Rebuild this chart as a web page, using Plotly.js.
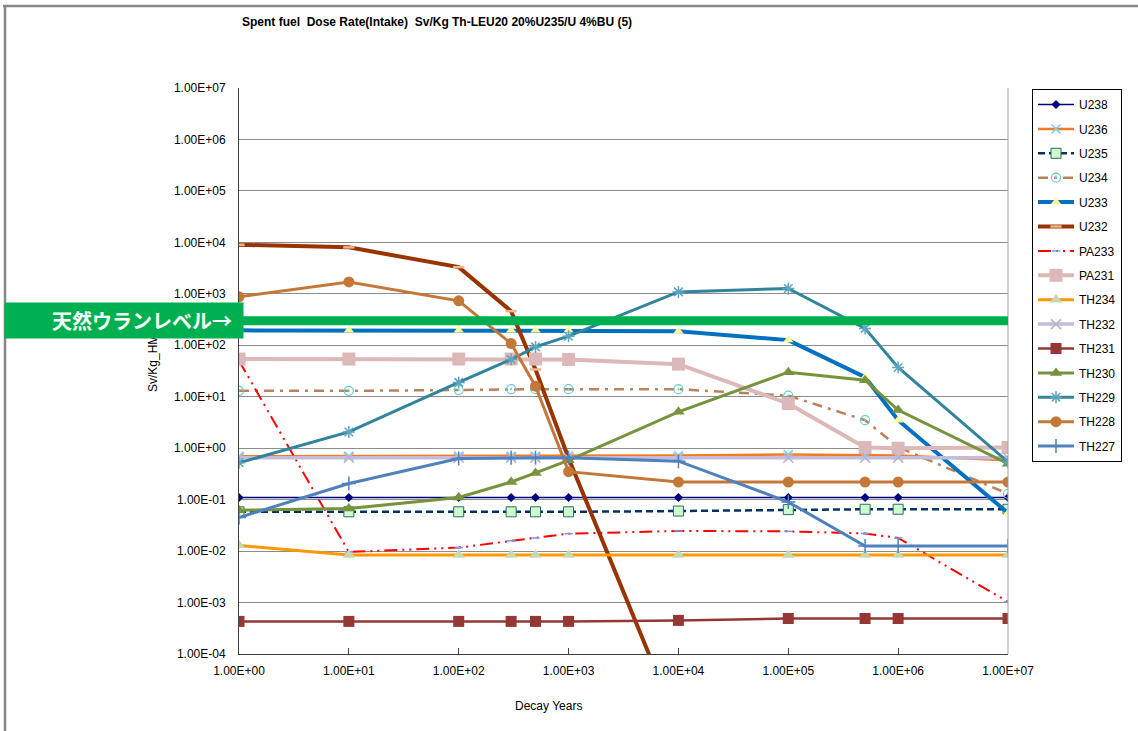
<!DOCTYPE html>
<html>
<head>
<meta charset="utf-8">
<script src="https://cdn.plot.ly/plotly-3.0.1.min.js"></script>
<style>
html,body{margin:0;padding:0;background:#fff;}
#chart{width:1138px;height:731px;}
</style>
</head>
<body>
<div id="chart"></div>
<script>
// ---- data ----
var years = [1, 10, 100, 300, 500, 1000, 1e4, 1e5, 5e5, 1e6, 1e7];
var xTickVals = [1, 10, 100, 1000, 1e4, 1e5, 1e6, 1e7];
var xTickText = ["1.00E+00","1.00E+01","1.00E+02","1.00E+03","1.00E+04","1.00E+05","1.00E+06","1.00E+07"];
var yTickVals = [1e-4, 1e-3, 1e-2, 1e-1, 1, 10, 100, 1e3, 1e4, 1e5, 1e6, 1e7];
var yTickText = ["1.00E-04","1.00E-03","1.00E-02","1.00E-01","1.00E+00","1.00E+01","1.00E+02","1.00E+03","1.00E+04","1.00E+05","1.00E+06","1.00E+07"];

var U238  = [0.11, 0.11, 0.11, 0.11, 0.11, 0.11, 0.11, 0.11, 0.11, 0.11, 0.11];
var U236  = [0.70, 0.70, 0.70, 0.70, 0.70, 0.71, 0.72, 0.75, 0.74, 0.72, 0.58];
var U235  = [0.058, 0.058, 0.058, 0.058, 0.058, 0.058, 0.060, 0.064, 0.065, 0.065, 0.065];
var U234  = [13, 13, 13.5, 14, 14, 14, 14, 10.5, 3.5, 1.05, 0.13];
var U233  = [195, 195, 195, 195, 195, 195, 188, 126, 24, 3.5, 0.055];
var U232  = [9000, 8000, 3300, 460, 34, 0.64, 4e-6, null, null, null, null];
var PA233 = [50, 0.0096, 0.0117, 0.0158, 0.018, 0.0218, 0.0246, 0.0242, 0.022, 0.018, 0.00103];
var PA231 = [54, 54, 54, 54, 54, 53, 43, 7.4, 1.03, 1.0, 1.03];
var TH234 = [0.0129, 0.0084, 0.0084, 0.0084, 0.0084, 0.0084, 0.0084, 0.0084, 0.0084, 0.0084, 0.0084];
var TH232 = [0.65, 0.65, 0.65, 0.65, 0.65, 0.65, 0.65, 0.65, 0.65, 0.65, 0.65];
var TH231 = [4.3e-4, 4.3e-4, 4.3e-4, 4.3e-4, 4.3e-4, 4.3e-4, 4.5e-4, 4.9e-4, 4.9e-4, 4.9e-4, 4.9e-4];
var TH230 = [0.062, 0.067, 0.11, 0.22, 0.33, 0.58, 5.1, 30, 21, 5.5, 0.5];
var TH229 = [0.52, 2.07, 19, 53, 93, 150, 1090, 1270, 213, 37, 0.54];
var TH228 = [875, 1700, 730, 108, 16, 0.35, 0.22, 0.22, 0.22, 0.22, 0.22];
var TH227 = [0.045, 0.206, 0.63, 0.65, 0.65, 0.65, 0.56, 0.09, 0.0126, 0.0126, 0.0126];

var naturalUraniumLevel = 300;  // Sv/kg level of the green band

var titleText = "Spent fuel&nbsp; Dose Rate(Intake)&nbsp; Sv/Kg Th-LEU20 20%U235/U 4%BU (5)";
var xTitle = "Decay Years";
var yTitle = "Sv/Kg_HM";
var bannerText = "天然ウランレベル→";

// ---- traces ----
function tr(name, y, line, marker) {
  return {x: years, y: y, name: name, type: "scatter", mode: "lines+markers",
          line: line, marker: marker, legendgroup: name, connectgaps: false, cliponaxis: true};
}
var traces = [
  tr("U238", U238, {color:"#000080", width:1.5}, {symbol:"diamond", size:7, color:"#000080"}),
  tr("U236", U236, {color:"#F57A1F", width:2.5}, {symbol:"x-thin-open", size:9, color:"#7FD3E8", line:{width:1.5, color:"#7FD3E8"}}),
  tr("U235", U235, {color:"#003366", width:2.5, dash:"7px,4px"}, {symbol:"square", size:10, color:"#CCFFCC", line:{width:1, color:"#336666"}}),
  tr("U234", U234, {color:"#B8825C", width:2.5, dash:"10px,6px,3px,6px"}, {symbol:"circle-open-dot", size:9, color:"#66CCCC", line:{width:1.2, color:"#66CCCC"}}),
  tr("U233", U233, {color:"#0070C0", width:4}, {symbol:"triangle-up", size:9, color:"#FFFF99"}),
  tr("U232", U232, {color:"#993300", width:4}, {symbol:"line-ew-open", size:8, color:"#F2B48A", line:{width:2.5, color:"#F2B48A"}}),
  tr("PA233", PA233, {color:"#FF0000", width:2, dash:"13px,5px,2px,5px,2px,5px"}, {symbol:"line-ew-open", size:6, color:"#7799FF", line:{width:1.5, color:"#7799FF"}}),
  tr("PA231", PA231, {color:"#DDB8B8", width:4}, {symbol:"square", size:13, color:"#DDB8B8"}),
  tr("TH234", TH234, {color:"#FF9900", width:3}, {symbol:"triangle-up", size:11, color:"#C8D8B0"}),
  tr("TH232", TH232, {color:"#C4BCDA", width:3.5}, {symbol:"x-thin-open", size:10, color:"#B8B0D0", line:{width:1.5, color:"#B8B0D0"}}),
  tr("TH231", TH231, {color:"#953735", width:2.5}, {symbol:"square", size:11, color:"#953735"}),
  tr("TH230", TH230, {color:"#77933C", width:3}, {symbol:"triangle-up", size:11, color:"#77933C"}),
  tr("TH229", TH229, {color:"#31849B", width:3}, {symbol:"asterisk-open", size:10, color:"#5AA5C0", line:{width:1.5, color:"#5AA5C0"}}),
  tr("TH228", TH228, {color:"#C47838", width:3}, {symbol:"circle", size:11, color:"#C47838"}),
  tr("TH227", TH227, {color:"#4F81BD", width:3}, {symbol:"cross-thin-open", size:10, color:"#4F81BD", line:{width:1.5, color:"#4F81BD"}})
];

// ---- layout ----
var W = 1138, H = 731, L = 239, R = 1008, T = 88, B = 654;
function px(x){ return (x - L) / (R - L); }
function py(y){ return (B - y) / (B - T); }
var bandY = (Math.log10(naturalUraniumLevel) + 4) / 11;

var font = "Liberation Sans, Arial, sans-serif";
var layout = {
  width: W, height: H,
  margin: {l: L, r: W - R, t: T, b: H - B, pad: 0},
  paper_bgcolor: "#fff", plot_bgcolor: "#fff",
  font: {family: font, size: 12, color: "#000"},
  showlegend: true,
  hovermode: false,
  xaxis: {
    type: "log", range: [0, 7], tickmode: "array", tickvals: xTickVals, ticktext: xTickText,
    showgrid: false, zeroline: false, showline: true, linecolor: "#404040", linewidth: 1,
    ticks: "inside", ticklen: 6, tickcolor: "#404040", ticklabelstandoff: 6,
    tickfont: {size: 12, family: font, color: "#000"}
  },
  yaxis: {
    type: "log", range: [-4, 7], tickmode: "array", tickvals: yTickVals, ticktext: yTickText,
    showgrid: true, gridcolor: "#8C8C8C", gridwidth: 1, zeroline: false,
    showline: true, linecolor: "#404040", linewidth: 1, ticks: "", ticklabelstandoff: 10,
    tickfont: {size: 12, family: font, color: "#000"}
  },
  legend: {
    x: px(1032), y: py(89), xanchor: "left", yanchor: "top",
    bgcolor: "#fff", bordercolor: "#000", borderwidth: 1,
    font: {size: 12, family: font, color: "#000"},
    traceorder: "grouped", tracegroupgap: 5.4, itemwidth: 36
  },
  shapes: [
    {type:"line", xref:"paper", yref:"paper", x0:1, x1:1, y0:0, y1:1, line:{color:"#A0A0A0", width:1}},
    {type:"line", xref:"paper", yref:"paper", x0:px(3), x1:px(1138), y0:py(6), y1:py(6), line:{color:"#888", width:2.5}},
    {type:"line", xref:"paper", yref:"paper", x0:px(5), x1:px(5), y0:py(6), y1:py(731), line:{color:"#888", width:2.5}},
    {type:"line", xref:"paper", yref:"paper", x0:0, x1:1, y0:bandY, y1:bandY, layer:"above", line:{color:"#00B050", width:9}}
  ],
  annotations: [
    {text: titleText, xref:"paper", yref:"paper", x: px(240), y: py(22), xanchor:"left", yanchor:"middle",
     showarrow:false, font:{size:12, family:font, color:"#000", weight:"bold"}},
    {text: xTitle, xref:"paper", yref:"paper", x: px(548), y: py(706), xanchor:"center", yanchor:"middle",
     showarrow:false, font:{size:12, family:font, color:"#000"}},
    {text: yTitle, xref:"paper", yref:"paper", x: px(153), y: py(364), xanchor:"center", yanchor:"middle",
     textangle:-90, showarrow:false, font:{size:12, family:font, color:"#000"}},
    {text: " ", xref:"paper", yref:"paper", x: px(124), y: py(320.5), xanchor:"center", yanchor:"middle",
     showarrow:false, width:238, height:35, borderpad:0, bgcolor:"#00B050",
     font:{size:20, family:font, color:"#fff"}},
    {text: "<b>" + bannerText + "</b>", xref:"paper", yref:"paper", x: px(233), y: py(320.5), xanchor:"right", yanchor:"middle",
     showarrow:false, borderpad:0,
     font:{size:20, family:"Noto Sans CJK JP, sans-serif", color:"#fff"}}
  ]
};

Plotly.newPlot("chart", traces, layout, {displayModeBar:false, staticPlot:true});
</script>
</body>
</html>
